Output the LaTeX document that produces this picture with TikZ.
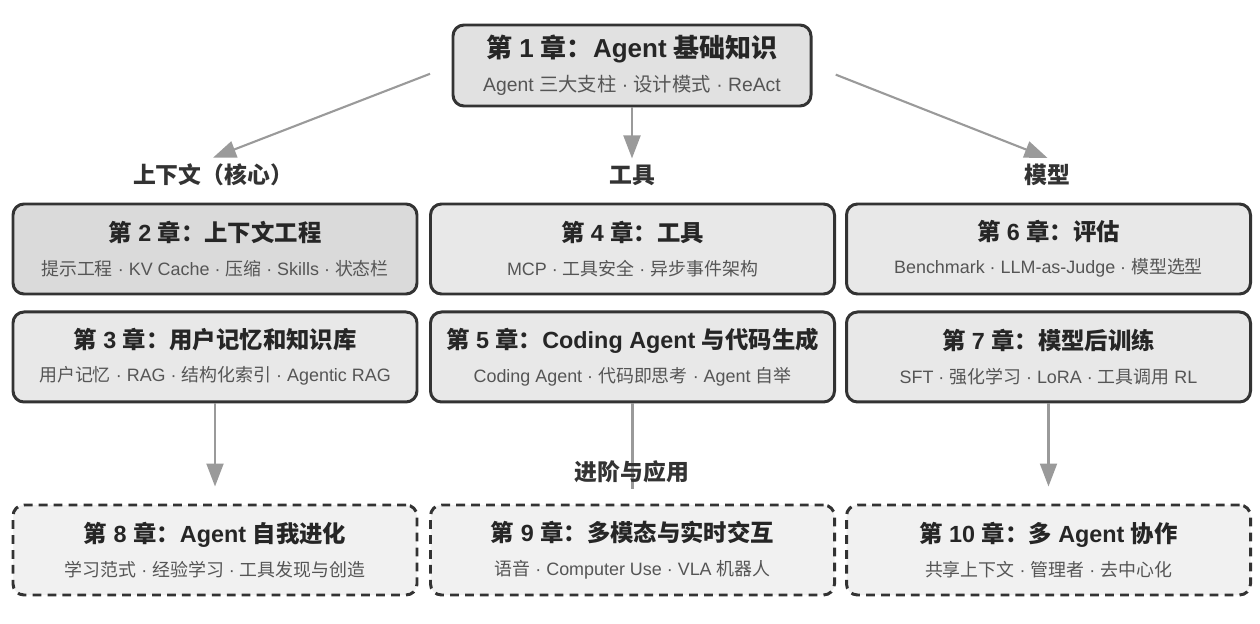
\documentclass[tikz,border=0pt]{standalone}
\usepackage{fontspec}
\setmainfont{Liberation Sans}
\newfontfamily\cjkfont{Noto Sans CJK SC}
% Chinese characters switch to the CJK family on their own
\XeTeXinterchartokenstate=1
\newXeTeXintercharclass\cjkcls
\count255="4E00
\loop\XeTeXcharclass\count255=\cjkcls\ifnum\count255<"9FFF\advance\count255 by 1\repeat
\count255="FF00
\loop\XeTeXcharclass\count255=\cjkcls\ifnum\count255<"FF5E\advance\count255 by 1\repeat
\XeTeXinterchartoks 0 \cjkcls={\begingroup\cjkfont}
\XeTeXinterchartoks 4095 \cjkcls={\begingroup\cjkfont}
\XeTeXinterchartoks \cjkcls 0={\endgroup}
\XeTeXinterchartoks \cjkcls 4095={\endgroup}
\usetikzlibrary{positioning, arrows.meta}
\definecolor{edgegray}{HTML}{333333}
\definecolor{flowgray}{HTML}{9A9A9A}
\definecolor{subgray}{HTML}{555555}
\definecolor{corefill}{HTML}{DADADA}
\definecolor{rootfill}{HTML}{E1E1E1}
\definecolor{boxfill}{HTML}{E8E8E8}
\definecolor{planfill}{HTML}{F1F1F1}
\newcommand{\roottitle}{\fontsize{14.8}{17}\selectfont\bfseries\color{black!85}}
\newcommand{\rootsub}{\fontsize{11}{13}\selectfont\color{subgray}}
\newcommand{\chaptitle}{\fontsize{13.3}{16}\selectfont\bfseries\color{black!85}}
\newcommand{\chapsub}{\fontsize{10.2}{12}\selectfont\color{subgray}}
\tikzset{
  chapter/.style={
    draw=edgegray,
    line width=1.7pt,
    rectangle,
    rounded corners=0.22cm,
    minimum width=8.08cm,
    minimum height=1.8cm,
    align=center,
    fill=boxfill
  },
  chaproot/.style={
    chapter,
    minimum width=7.16cm,
    minimum height=1.62cm,
    fill=rootfill
  },
  chapcore/.style={
    chapter,
    fill=corefill
  },
  chapplan/.style={
    chapter,
    dash pattern=on 5pt off 3.5pt,
    fill=planfill
  },
  tier/.style={
    font=\fontsize{13}{15}\selectfont\bfseries,
    text=black!80
  },
  flow/.style={
    draw=flowgray,
    line width=1.2pt,
    -{Triangle[length=0.46cm,width=0.34cm]}
  }
}

\begin{document}
\begin{tikzpicture}
        \useasboundingbox (0,0) rectangle (25.2,-12.48);
        % root
        \node[chaproot] (ch1) at (12.64,-1.31) {{\roottitle 第 1 章：Agent 基础知识}\\[6pt]{\rootsub Agent 三大支柱 · 设计模式 · ReAct}};

        % three tracks
        \node[tier] (tctx) at (4.26,-3.5) {上下文（核心）};
        \node[tier] (ttool) at (12.64,-3.5) {工具};
        \node[tier] (tmodel) at (20.95,-3.5) {模型};

        \draw[flow, shorten <=0.46cm] (ch1.west) -- (tctx.north);
        \draw[flow] (ch1) -- (ttool);
        \draw[flow, shorten <=0.5cm] (ch1.east) -- (tmodel.north);

        \node[chapcore] (ch2) at (4.30,-4.98) {{\chaptitle 第 2 章：上下文工程}\\[7pt]{\chapsub 提示工程 · KV Cache · 压缩 · Skills · 状态栏}};
        \node[chapter] (ch4) at (12.65,-4.98) {{\chaptitle 第 4 章：工具}\\[7pt]{\chapsub MCP · 工具安全 · 异步事件架构}};
        \node[chapter] (ch6) at (20.97,-4.98) {{\chaptitle 第 6 章：评估}\\[7pt]{\chapsub Benchmark · LLM-as-Judge · 模型选型}};

        \node[chapter, below=0.3cm of ch2] (ch3) {{\chaptitle 第 3 章：用户记忆和知识库}\\[7pt]{\chapsub 用户记忆 · RAG · 结构化索引 · Agentic RAG}};
        \node[chapter, below=0.3cm of ch4] (ch5) {{\chaptitle 第 5 章：Coding Agent 与代码生成}\\[7pt]{\chapsub Coding Agent · 代码即思考 · Agent 自举}};
        \node[chapter, below=0.3cm of ch6] (ch7) {{\chaptitle 第 7 章：模型后训练}\\[7pt]{\chapsub SFT · 强化学习 · LoRA · 工具调用 RL}};

        % advanced
        \node[chapplan] (ch8) at (4.30,-11.0) {{\chaptitle 第 8 章：Agent 自我进化}\\[7pt]{\chapsub 学习范式 · 经验学习 · 工具发现与创造}};
        \node[chapplan] (ch9) at (12.65,-11.0) {{\chaptitle 第 9 章：多模态与实时交互}\\[7pt]{\chapsub 语音 · Computer Use · VLA 机器人}};
        \node[chapplan] (ch10) at (20.97,-11.0) {{\chaptitle 第 10 章：多 Agent 协作}\\[7pt]{\chapsub 共享上下文 · 管理者 · 去中心化}};

        \draw[flow, shorten >=0.34cm] (ch3) -- (ch8);
        \draw[draw=flowgray, line width=1.2pt, shorten >=0.3cm] (ch5) -- (ch9);
        \draw[flow, shorten >=0.34cm] (ch7) -- (ch10);

        \node[tier] (tadv) at (12.64,-9.44) {进阶与应用};
      \end{tikzpicture}
\end{document}
